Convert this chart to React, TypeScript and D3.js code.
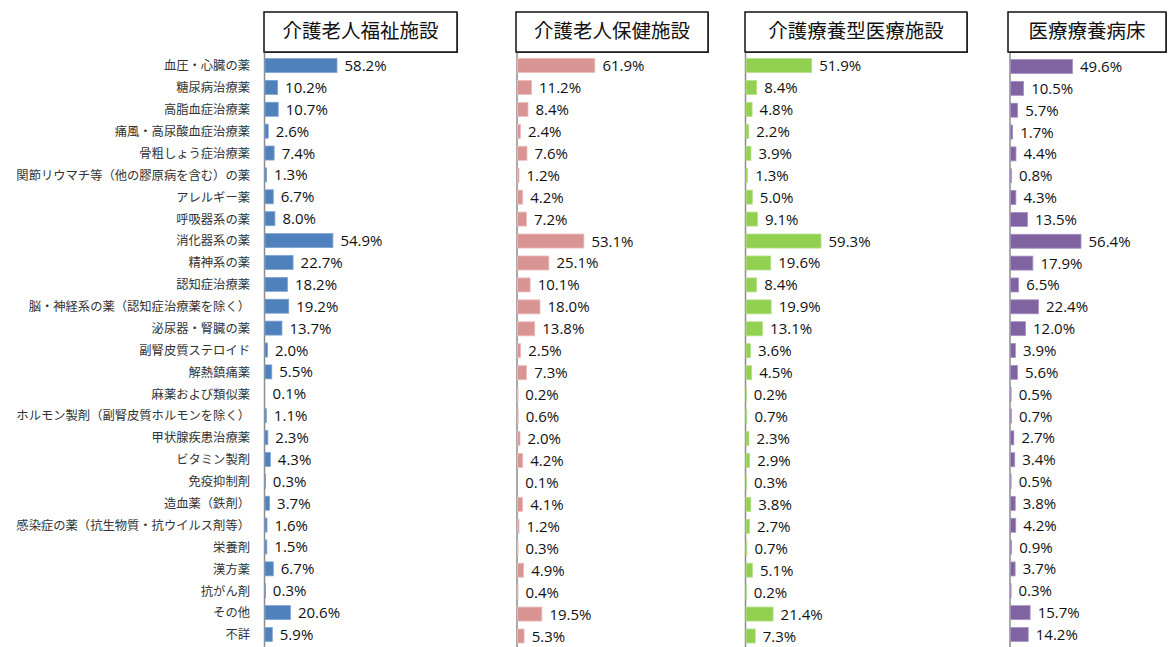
import React from "react";
import * as d3 from "d3";

const categories = [
  "血圧・心臓の薬",
  "糖尿病治療薬",
  "高脂血症治療薬",
  "痛風・高尿酸血症治療薬",
  "骨粗しょう症治療薬",
  "関節リウマチ等（他の膠原病を含む）の薬",
  "アレルギー薬",
  "呼吸器系の薬",
  "消化器系の薬",
  "精神系の薬",
  "認知症治療薬",
  "脳・神経系の薬（認知症治療薬を除く）",
  "泌尿器・腎臓の薬",
  "副腎皮質ステロイド",
  "解熱鎮痛薬",
  "麻薬および類似薬",
  "ホルモン製剤（副腎皮質ホルモンを除く）",
  "甲状腺疾患治療薬",
  "ビタミン製剤",
  "免疫抑制剤",
  "造血薬（鉄剤）",
  "感染症の薬（抗生物質・抗ウイルス剤等）",
  "栄養剤",
  "漢方薬",
  "抗がん剤",
  "その他",
  "不詳",
];

const fukushi = [58.2, 10.2, 10.7, 2.6, 7.4, 1.3, 6.7, 8.0, 54.9, 22.7, 18.2, 19.2, 13.7, 2.0, 5.5, 0.1, 1.1, 2.3, 4.3, 0.3, 3.7, 1.6, 1.5, 6.7, 0.3, 20.6, 5.9];
const hoken = [61.9, 11.2, 8.4, 2.4, 7.6, 1.2, 4.2, 7.2, 53.1, 25.1, 10.1, 18.0, 13.8, 2.5, 7.3, 0.2, 0.6, 2.0, 4.2, 0.1, 4.1, 1.2, 0.3, 4.9, 0.4, 19.5, 5.3];
const ryoyoIryo = [51.9, 8.4, 4.8, 2.2, 3.9, 1.3, 5.0, 9.1, 59.3, 19.6, 8.4, 19.9, 13.1, 3.6, 4.5, 0.2, 0.7, 2.3, 2.9, 0.3, 3.8, 2.7, 0.7, 5.1, 0.2, 21.4, 7.3];
const ryoyoByosho = [49.6, 10.5, 5.7, 1.7, 4.4, 0.8, 4.3, 13.5, 56.4, 17.9, 6.5, 22.4, 12.0, 3.9, 5.6, 0.5, 0.7, 2.7, 3.4, 0.5, 3.8, 4.2, 0.9, 3.7, 0.3, 15.7, 14.2];

const panelTitles = ["介護老人福祉施設", "介護老人保健施設", "介護療養型医療施設", "医療療養病床"];

const panels = [
  { title: panelTitles[0], values: fukushi, color: "#4F81BD", edge: "#7fa3d0", x0: 264.5, ppp: 1.237, y0: 65.5, y1: 634.5, boxL: 264, boxR: 457 },
  { title: panelTitles[1], values: hoken, color: "#D99594", edge: "#ebbcbb", x0: 517, ppp: 1.25, y0: 65.5, y1: 636, boxL: 516, boxR: 708 },
  { title: panelTitles[2], values: ryoyoIryo, color: "#92D050", edge: "#b5e08a", x0: 745.5, ppp: 1.265, y0: 65.5, y1: 636, boxL: 745, boxR: 967 },
  { title: panelTitles[3], values: ryoyoByosho, color: "#8064A2", edge: "#a892c2", x0: 1010, ppp: 1.25, y0: 66.5, y1: 634.5, boxL: 1008, boxR: 1166 },
];

const W = 1168;
const H = 647;
const labelFont = "'Noto Sans CJK JP', 'Noto Sans', sans-serif";
const numFont = "'Open Sans', 'Noto Sans', sans-serif";

export default function App() {
  const rowY = d3.scalePoint<string>().domain(categories).range([panels[0].y0, panels[0].y1]);
  return (
    <svg width={W} height={H} style={{ position: "absolute", left: 0, top: 0, background: "#fff" }}>
      <rect x={0} y={0} width={W} height={H} fill="#fff" />
      {categories.map((c) => (
        <text
          key={c}
          x={250}
          y={(rowY(c) as number) + 1.5}
          textAnchor="end"
          dominantBaseline="middle"
          fontFamily={labelFont}
          fontSize={12.3}
          fill="#333"
        >
          {c}
        </text>
      ))}
      {panels.map((p, pi) => {
        const x = d3.scaleLinear().domain([0, 100]).range([p.x0, p.x0 + 100 * p.ppp]);
        const y = d3.scalePoint<string>().domain(categories).range([p.y0, p.y1]);
        const bh = 14;
        return (
          <g key={pi}>
            <rect x={p.boxL + 1} y={13} width={p.boxR - p.boxL} height={40} fill="#555" />
            <rect x={p.boxL} y={12} width={p.boxR - p.boxL} height={40} fill="#fff" stroke="#111" strokeWidth={1.5} />
            <text
              x={(p.boxL + p.boxR) / 2}
              y={33}
              textAnchor="middle"
              dominantBaseline="middle"
              fontFamily={labelFont}
              fontSize={19.5}
              fill="#111"
            >
              {p.title}
            </text>
            <line x1={p.x0} x2={p.x0} y1={53} y2={H} stroke="#8c8c8c" strokeWidth={1.5} />
            {p.values.map((v, i) => {
              const cy = y(categories[i]) as number;
              const w = x(v) - x(0);
              return (
                <g key={i}>
                  {w > 0.2 && (
                    <rect
                      x={x(0) + 0.5}
                      y={cy - bh / 2}
                      width={Math.max(w, 0.6)}
                      height={bh}
                      fill={p.color}
                      stroke={p.edge}
                      strokeWidth={0.8}
                    />
                  )}
                  <text
                    x={x(v) + 8}
                    y={cy + 1.5}
                    dominantBaseline="middle"
                    fontFamily={numFont}
                    fontSize={15}
                    fill="#111"
                  >
                    {v.toFixed(1)}%
                  </text>
                </g>
              );
            })}
          </g>
        );
      })}
    </svg>
  );
}
